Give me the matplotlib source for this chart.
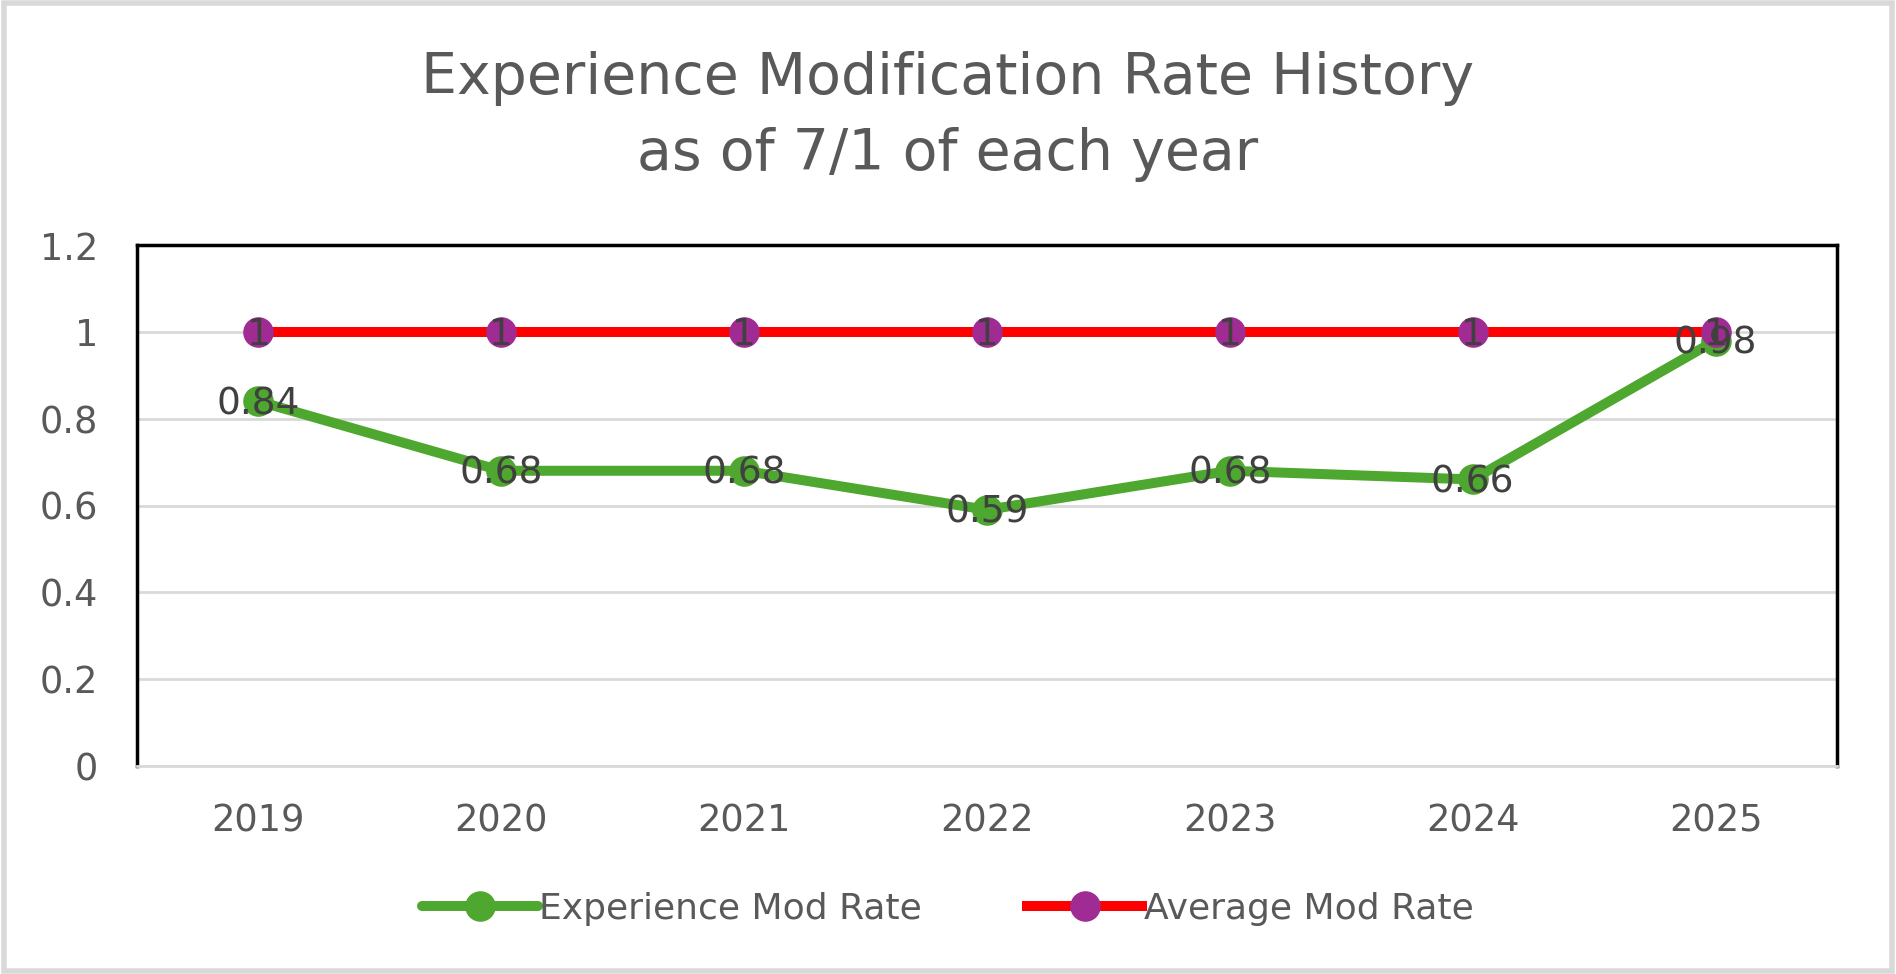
import matplotlib.pyplot as plt
from matplotlib.patches import Rectangle

# Dados
years = ['2019', '2020', '2021', '2022', '2023', '2024', '2025']
exp_mod = [0.84, 0.68, 0.68, 0.59, 0.68, 0.66, 0.98]
avg_mod = [1, 1, 1, 1, 1, 1, 1]
y_ticks = [0, 0.2, 0.4, 0.6, 0.8, 1, 1.2]
y_tick_labels = ['0', '0.2', '0.4', '0.6', '0.8', '1', '1.2']


def main():
    plt.rcParams['font.family'] = ['DejaVu Sans']
    fig = plt.figure(figsize=(18.96, 9.74), dpi=100)
    ax = fig.add_axes([137 / 1896, 1 - 766 / 974, 1700 / 1896, 521 / 974])

    x = list(range(len(years)))
    ax.plot(x, exp_mod, color='#4EA72E', lw=7.2, marker='o', markersize=21,
            markerfacecolor='#4EA72E', markeredgecolor='#4EA72E', zorder=3,
            solid_capstyle='round', label='Experience Mod Rate')
    ax.plot(x, avg_mod, color='#FF0000', lw=7.2, marker='o', markersize=21,
            markerfacecolor='#A02B93', markeredgecolor='#A02B93', zorder=4,
            label='Average Mod Rate')

    # rótulos de dados
    for xi, v in zip(x, exp_mod):
        ax.annotate(f'{v:g}', (xi, v), xytext=(0, -2), textcoords='offset points',
                    ha='center', va='center', fontsize=27, color='#404040', zorder=5)
    for xi, v in zip(x, avg_mod):
        ax.annotate(f'{v:g}', (xi, v), xytext=(0, -2), textcoords='offset points',
                    ha='center', va='center', fontsize=27, color='#404040', zorder=5)

    ax.set_xlim(-0.5, len(years) - 0.5)
    ax.set_ylim(0, 1.2)
    ax.set_yticks(y_ticks)
    ax.set_yticklabels(y_tick_labels)
    ax.set_xticks(x)
    ax.set_xticklabels(years)
    ax.tick_params(axis='both', length=0, labelsize=26.5, labelcolor='#595959')
    ax.tick_params(axis='y', pad=28)
    ax.tick_params(axis='x', pad=26)
    ax.grid(axis='y', color='#D9D9D9', lw=2)
    ax.set_axisbelow(True)
    for side in ['left', 'top', 'right']:
        ax.spines[side].set_color('black')
        ax.spines[side].set_linewidth(2.5)
    ax.spines['bottom'].set_color('#D9D9D9')
    ax.spines['bottom'].set_linewidth(2)

    fig.text(0.5, 1 - 79 / 974, 'Experience Modification Rate History',
             ha='center', va='center', fontsize=41, color='#595959')
    fig.text(0.5, 1 - 155 / 974, 'as of 7/1 of each year',
             ha='center', va='center', fontsize=41, color='#595959')

    leg = fig.legend(loc='center', bbox_to_anchor=(0.5, 1 - 909 / 974), ncol=2,
                     frameon=False, handlelength=3.2,
                     handletextpad=0.05, columnspacing=2.9,
                     prop={'family': 'DejaVu Sans', 'size': 26})
    for t in leg.get_texts():
        t.set_color('#595959')

    # moldura externa
    fig.patches.append(Rectangle((0.002, 0.003), 0.996, 0.994, transform=fig.transFigure,
                                 fill=False, edgecolor='#D9D9D9', lw=4))

    fig.savefig('out.png', dpi=100)


if __name__ == '__main__':
    main()
